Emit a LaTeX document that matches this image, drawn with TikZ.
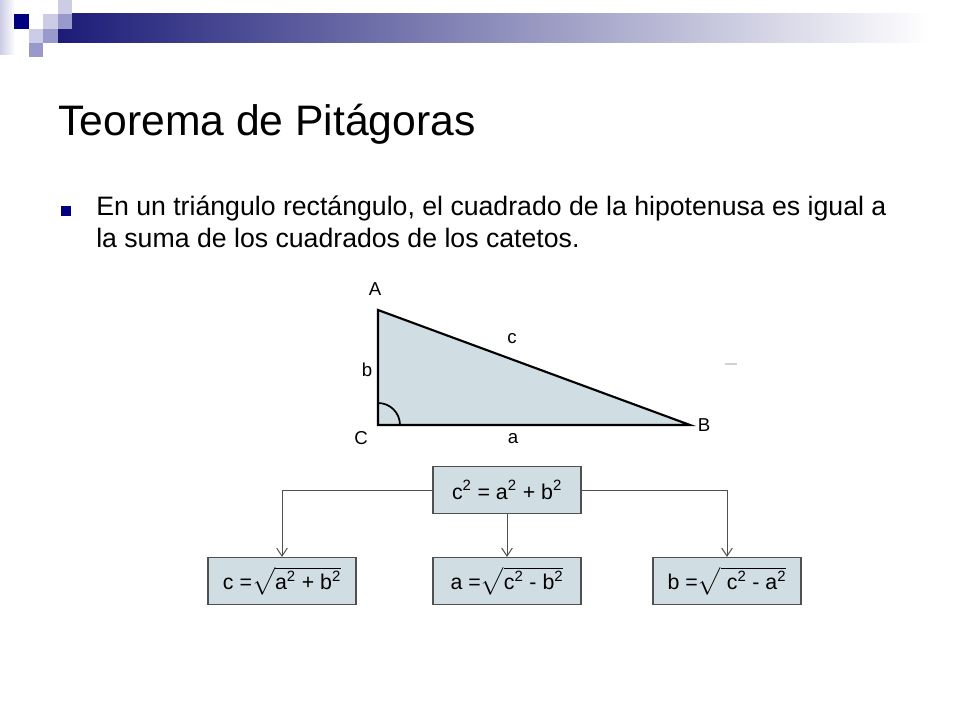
\documentclass[tikz,border=0pt]{standalone}
\usepackage{fontspec}
\setmainfont{Liberation Sans}
\usepackage{amsmath}
\usetikzlibrary{arrows.meta, positioning}

\definecolor{navy}{RGB}{0,0,128}
\definecolor{palelav}{RGB}{204,204,230}
\definecolor{midlav}{RGB}{153,153,204}
\definecolor{barnavy}{RGB}{28,28,120}
\definecolor{trifill}{RGB}{208,221,226}
\definecolor{boxgray}{RGB}{80,80,80}

\newcommand{\sq}[1]{#1\textsuperscript{2}}

\begin{document}
\begin{tikzpicture}[
	x=0.75pt, y=-0.75pt,
	FormulaBox/.style={rectangle, draw=boxgray, line width=1.1pt, fill=trifill,
		minimum width=111pt, minimum height=35pt, font=\fontsize{16}{18}\selectfont},
	Link/.style={draw=boxgray, line width=0.75pt, -{Straight Barb[length=6pt,width=8pt]}},
	VertexLabel/.style={font=\fontsize{14}{16}\selectfont, inner sep=0pt},
	SlideText/.style={anchor=base west, inner sep=0pt}
	]

\useasboundingbox (0,0) rectangle (960,720);

% slide decoration
\shade [left color=palelav, right color=white] (0,0) rectangle (15,55);
\shade [left color=barnavy, right color=white] (58,14) rectangle (930,43);
\fill [navy] (14,14) rectangle (29,29);
\fill [palelav] (43,14) rectangle (58,29);
\fill [palelav] (58,0) rectangle (72,14);
\fill [midlav] (58,14) rectangle (72,29);
\fill [palelav] (29,29) rectangle (43,43);
\fill [midlav] (43,29) rectangle (58,43);
\fill [midlav] (29,43) rectangle (43,57);

\node [SlideText, font=\fontsize{32}{38}\selectfont] (title) at (58,136) {Teorema de Pitágoras};

\fill [navy] (61,206) rectangle (71,216);
\node [SlideText, font=\fontsize{20}{24}\selectfont] (line1) at (96,216)
	{En un triángulo rectángulo, el cuadrado de la hipotenusa es igual a};
\node [SlideText, font=\fontsize{20}{24}\selectfont] (line2) at (96,248)
	{la suma de los cuadrados de los catetos.};

% triangle
\coordinate (A) at (378,310);
\coordinate (C) at (378,425);
\coordinate (B) at (690,425);
\filldraw [fill=trifill, line width=1.6pt, line join=miter] (A) -- (B) -- (C) -- cycle;
\draw [line width=1.3pt] (400,425) arc [start angle=0, end angle=-90, radius=22];
\draw [gray!35, line width=0.8pt] (725,364) -- (737,364);

\node [VertexLabel] (labA) at (375,289) {A};
\node [VertexLabel] (labB) at (704,425) {B};
\node [VertexLabel] (labC) at (361,438) {C};
\node [VertexLabel] (laba) at (513,439) {a};
\node [VertexLabel] (labb) at (367,370) {b};
\node [VertexLabel] (labc) at (512,339) {c};

% formulas
\node [FormulaBox] (main) at (507,490) {\sq{c} = \sq{a} + \sq{b}};
\node [FormulaBox] (hyp) at (282,581) {c =$\sqrt{\rule[-3pt]{0pt}{15pt}\text{\sq{a} + \sq{b}}}$};
\node [FormulaBox] (legA) at (507,581) {a =$\sqrt{\rule[-3pt]{0pt}{15pt}\text{\sq{c} - \sq{b}}}$};
\node [FormulaBox] (legB) at (727,581) {b =$\sqrt{\rule[-3pt]{0pt}{15pt}\text{ \sq{c} - \sq{a}}}$};

\draw [Link] (main.west) -| (hyp.north);
\draw [Link] (main) -- (legA);
\draw [Link] (main.east) -| (legB.north);

\end{tikzpicture}
\end{document}
